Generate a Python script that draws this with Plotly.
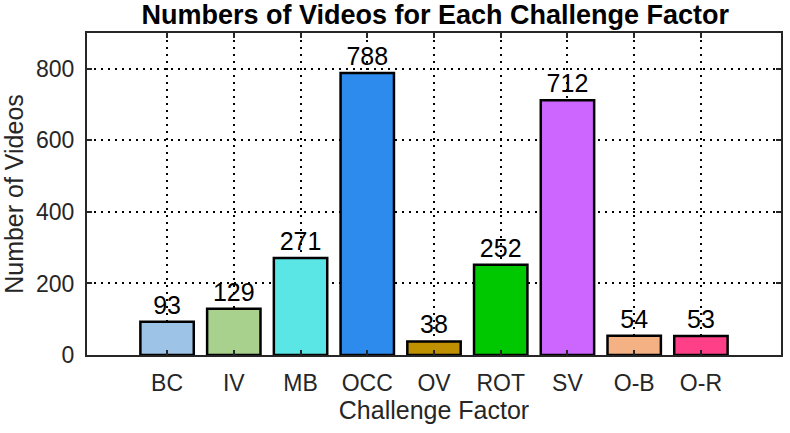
import plotly.graph_objects as go

# data
factors = ["BC", "IV", "MB", "OCC", "OV", "ROT", "SV", "O-B", "O-R"]
counts  = [93, 129, 271, 788, 38, 252, 712, 54, 53]
colors  = ["#9DC3E6", "#A9D18E", "#5BE6E6", "#2E8BEE", "#BF9000",
           "#00C800", "#CC66FF", "#F4B183", "#FF4088"]
yticks  = [0, 200, 400, 600, 800]

fig = go.Figure(go.Bar(
    x=list(range(len(factors))),
    y=counts,
    width=0.8,
    marker=dict(color=colors, line=dict(color="black", width=2.5)),
    text=[str(c) for c in counts],
    textposition="outside",
    textfont=dict(size=25, color="black", family="Liberation Sans"),
    cliponaxis=False,
))

axis_style = dict(
    showline=True, linecolor="#262626", linewidth=2, mirror="ticks",
    ticks="inside", ticklen=5, tickwidth=2, tickcolor="#262626",
    showgrid=True, gridcolor="black", griddash="2px,5px", gridwidth=2,
    zeroline=False,
    tickfont=dict(size=23, color="#262626"),
)

fig.update_layout(
    title=dict(
        text="<b>Numbers of Videos for Each Challenge Factor</b>",
        font=dict(size=27, color="black", family="Liberation Sans"),
        x=0.551, xanchor="center", y=0.966, yanchor="middle",
    ),
    font=dict(family="Liberation Sans", color="#262626"),
    paper_bgcolor="white",
    plot_bgcolor="white",
    width=790, height=433,
    margin=dict(l=87, r=7, t=33, b=78),
    showlegend=False,
    xaxis=dict(
        axis_style,
        tickmode="array",
        tickvals=list(range(len(factors))),
        ticktext=factors,
        range=[-1.2, len(factors) + 0.2],
        ticklabelstandoff=6,
        title=dict(text="Challenge Factor", font=dict(size=25, color="#262626"), standoff=7),
    ),
    yaxis=dict(
        axis_style,
        tickmode="array",
        tickvals=yticks,
        range=[0, 900],
        ticklabelstandoff=6,
        title=dict(text="Number of Videos", font=dict(size=25, color="#262626"), standoff=6),
    ),
)

fig.write_html("out.html", config={"displayModeBar": False})

# drop the default body margin so the figure sits at the page corner
with open("out.html") as f:
    html = f.read()
html = html.replace("<head>", "<head><style>body{margin:0;}</style>", 1)
with open("out.html", "w") as f:
    f.write(html)
